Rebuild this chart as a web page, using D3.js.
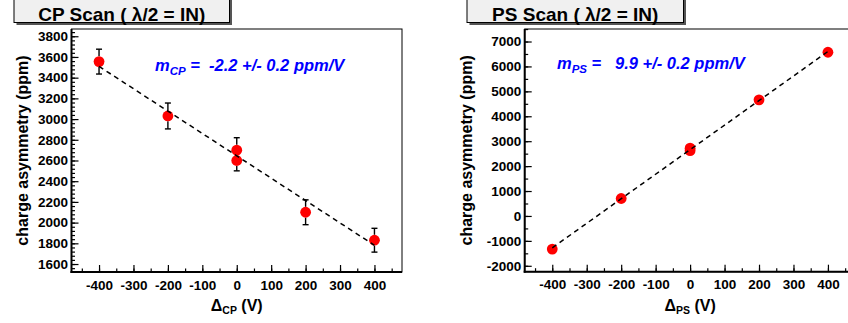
<!DOCTYPE html>
<html><head><meta charset="utf-8">
<script src="https://cdn.jsdelivr.net/npm/d3@7"></script>
<style>
body{margin:0;background:#fff}
svg{display:block;font-family:"Liberation Sans",Arial,Helvetica,sans-serif}
</style>
</head><body>
<svg id="c" width="848" height="323"></svg>
<script>
// ---------- data ----------
const voltageTicks = [-400, -300, -200, -100, 0, 100, 200, 300, 400];

const cpVoltage = [-400, -200, 0, 0, 200, 400];
const cpAsym    = [3555, 3030, 2700, 2600, 2100, 1830];
const cpErr     = [120, 125, 120, 100, 120, 115];
const cpFit     = [-2.16, 2645];          // slope, intercept
const cpYTicks  = [1600, 1800, 2000, 2200, 2400, 2600, 2800, 3000, 3200, 3400, 3600, 3800];
const cpTitle   = "CP Scan ( \u03bb/2 = IN)";
const cpSlope   = ["m", "CP", " =  -2.2 +/- 0.2 ppm/V"];
const cpXLabel  = ["\u0394", "CP", " (V)"];

const psVoltage = [-400, -200, 0, 0, 200, 400];
const psAsym    = [-1330, 700, 2720, 2620, 4660, 6570];
const psErr     = [110, 110, 110, 110, 110, 110];
const psFit     = [9.85, 2660];
const psYTicks  = [-2000, -1000, 0, 1000, 2000, 3000, 4000, 5000, 6000, 7000];
const psTitle   = "PS Scan ( \u03bb/2 = IN)";
const psSlope   = ["m", "PS", " =   9.9 +/- 0.2 ppm/V"];
const psXLabel  = ["\u0394", "PS", " (V)"];

const yLabel = "charge asymmetry (ppm)";

// ---------- layout ----------
const svg = d3.select("#c");
const fmt = d => String(d);

function panel(o) {
  const g = svg.append("g");
  const x = d3.scaleLinear().domain([-480, 480]).range([o.x0, o.x1]);
  const y = d3.scaleLinear().domain(o.yDomain).range([o.y1, o.y0]);

  // title box
  g.append("rect").attr("x", o.box[0] + 2.5).attr("y", -10)
    .attr("width", o.box[1] - o.box[0]).attr("height", 22.5 + 10 + 2.5)
    .attr("fill", "#555");
  g.append("rect").attr("x", o.box[0]).attr("y", -10)
    .attr("width", o.box[1] - o.box[0]).attr("height", 22.5 + 10)
    .attr("fill", "#f0f0f0").attr("stroke", "#000").attr("stroke-width", 1);
  g.append("text").attr("x", (o.box[0] + o.box[1]) / 2).attr("y", 20.8)
    .attr("text-anchor", "middle").attr("font-size", 19).attr("font-weight", "bold")
    .text(o.title);

  // frame
  g.append("rect").attr("x", o.x0).attr("y", o.y0)
    .attr("width", o.x1 - o.x0).attr("height", o.y1 - o.y0)
    .attr("fill", "none").attr("stroke", "#000").attr("stroke-width", 1);

  // axes
  const styleAxis = (sel) => {
    sel.attr("font-size", null).attr("font-family", null);
    sel.select(".domain").remove();
    sel.selectAll("line").attr("stroke", "#000").attr("stroke-width", 1.2);
    sel.selectAll("text").attr("font-size", 13.5).attr("font-weight", "bold")
      .attr("fill", "#000");
  };
  const xMinor = d3.range(-450, 451, 50);
  g.append("g").attr("transform", `translate(0,${o.y1})`)
    .call(d3.axisBottom(x).tickValues(xMinor).tickSize(-3.5).tickFormat(""))
    .call(styleAxis);
  g.append("g").attr("transform", `translate(0,${o.y1})`)
    .call(d3.axisBottom(x).tickValues(voltageTicks).tickSize(-7).tickPadding(8).tickFormat(fmt))
    .call(styleAxis);
  const yMinor = d3.range(o.yMinor[0], o.yDomain[1] + 1, o.yMinor[1]).filter(v => v >= o.yDomain[0]);
  g.append("g").attr("transform", `translate(${o.x0},0)`)
    .call(d3.axisLeft(y).tickValues(yMinor).tickSize(-3.5).tickFormat(""))
    .call(styleAxis);
  g.append("g").attr("transform", `translate(${o.x0},0)`)
    .call(d3.axisLeft(y).tickValues(o.yTicks).tickSize(-7).tickPadding(3.5).tickFormat(fmt))
    .call(styleAxis);

  // thick left/bottom axis lines
  g.append("line").attr("x1", o.x0).attr("x2", o.x0).attr("y1", o.y0).attr("y2", o.y1 + 1)
    .attr("stroke", "#000").attr("stroke-width", 2);
  g.append("line").attr("x1", o.x0 - 1).attr("x2", o.x1).attr("y1", o.y1).attr("y2", o.y1)
    .attr("stroke", "#000").attr("stroke-width", 2);

  // data
  const pts = o.vx.map((v, i) => ({ v, a: o.va[i], e: o.ve[i] }));
  const r = 5.4;
  const cap = 3;
  pts.forEach(p => {
    const cx = x(p.v), cy = y(p.a);
    const top = y(p.a + p.e), bot = y(p.a - p.e);
    if (cy - top > r) {
      g.append("line").attr("x1", cx).attr("x2", cx).attr("y1", top).attr("y2", cy - r)
        .attr("stroke", "#000").attr("stroke-width", 1.4);
      g.append("line").attr("x1", cx).attr("x2", cx).attr("y1", bot).attr("y2", cy + r)
        .attr("stroke", "#000").attr("stroke-width", 1.4);
      g.append("line").attr("x1", cx - cap).attr("x2", cx + cap).attr("y1", top).attr("y2", top)
        .attr("stroke", "#000").attr("stroke-width", 1.4);
      g.append("line").attr("x1", cx - cap).attr("x2", cx + cap).attr("y1", bot).attr("y2", bot)
        .attr("stroke", "#000").attr("stroke-width", 1.4);
    }
  });
  g.selectAll(null).data(pts).enter().append("circle")
    .attr("cx", d => x(d.v)).attr("cy", d => y(d.a)).attr("r", r).attr("fill", "#ff0000");

  // fit line
  const fx = [-400, 400];
  g.append("line")
    .attr("x1", x(fx[0])).attr("y1", y(o.fit[0] * fx[0] + o.fit[1]))
    .attr("x2", x(fx[1])).attr("y2", y(o.fit[0] * fx[1] + o.fit[1]))
    .attr("stroke", "#000").attr("stroke-width", 1.5).attr("stroke-dasharray", "5,4");

  // slope annotation
  const t = g.append("text").attr("x", o.ann[0]).attr("y", o.ann[1])
    .attr("fill", "#0000ff").attr("font-weight", "bold").attr("font-style", "italic")
    .attr("font-size", 16.5);
  t.append("tspan").text(o.slope[0]);
  t.append("tspan").attr("dy", 4).attr("font-size", 11.5).text(o.slope[1]);
  t.append("tspan").attr("dy", -4).style("white-space", "pre").text(o.slope[2]);

  // x label
  const xl = g.append("text").attr("x", (o.x0 + o.x1) / 2).attr("y", 310.5)
    .attr("text-anchor", "middle").attr("font-weight", "bold").attr("font-size", 16);
  xl.append("tspan").text(o.xlabel[0]);
  xl.append("tspan").attr("dy", 3).attr("font-size", 10.5).text(o.xlabel[1]);
  xl.append("tspan").attr("dy", -3).style("white-space", "pre").text(o.xlabel[2]);

  // y label
  g.append("text").attr("transform", `translate(${o.ylx},${(o.y0 + o.y1) / 2}) rotate(-90)`)
    .attr("text-anchor", "middle").attr("font-weight", "bold").attr("font-size", 16)
    .text(yLabel);
}

panel({
  x0: 71.5, x1: 402, y0: 29, y1: 272,
  yDomain: [1523, 3870], yTicks: cpYTicks, yMinor: [1560, 40],
  vx: cpVoltage, va: cpAsym, ve: cpErr, fit: cpFit,
  box: [14, 229.5], title: cpTitle,
  slope: cpSlope, ann: [155, 70.5], xlabel: cpXLabel, ylx: 28.3
});
panel({
  x0: 524.7, x1: 855.5, y0: 29, y1: 271.7,
  yDomain: [-2237, 7502], yTicks: psYTicks, yMinor: [-2000, 500],
  vx: psVoltage, va: psAsym, ve: psErr, fit: psFit,
  box: [467, 683.5], title: psTitle,
  slope: psSlope, ann: [557, 68.5], xlabel: psXLabel, ylx: 472.3
});
</script>
</body></html>
